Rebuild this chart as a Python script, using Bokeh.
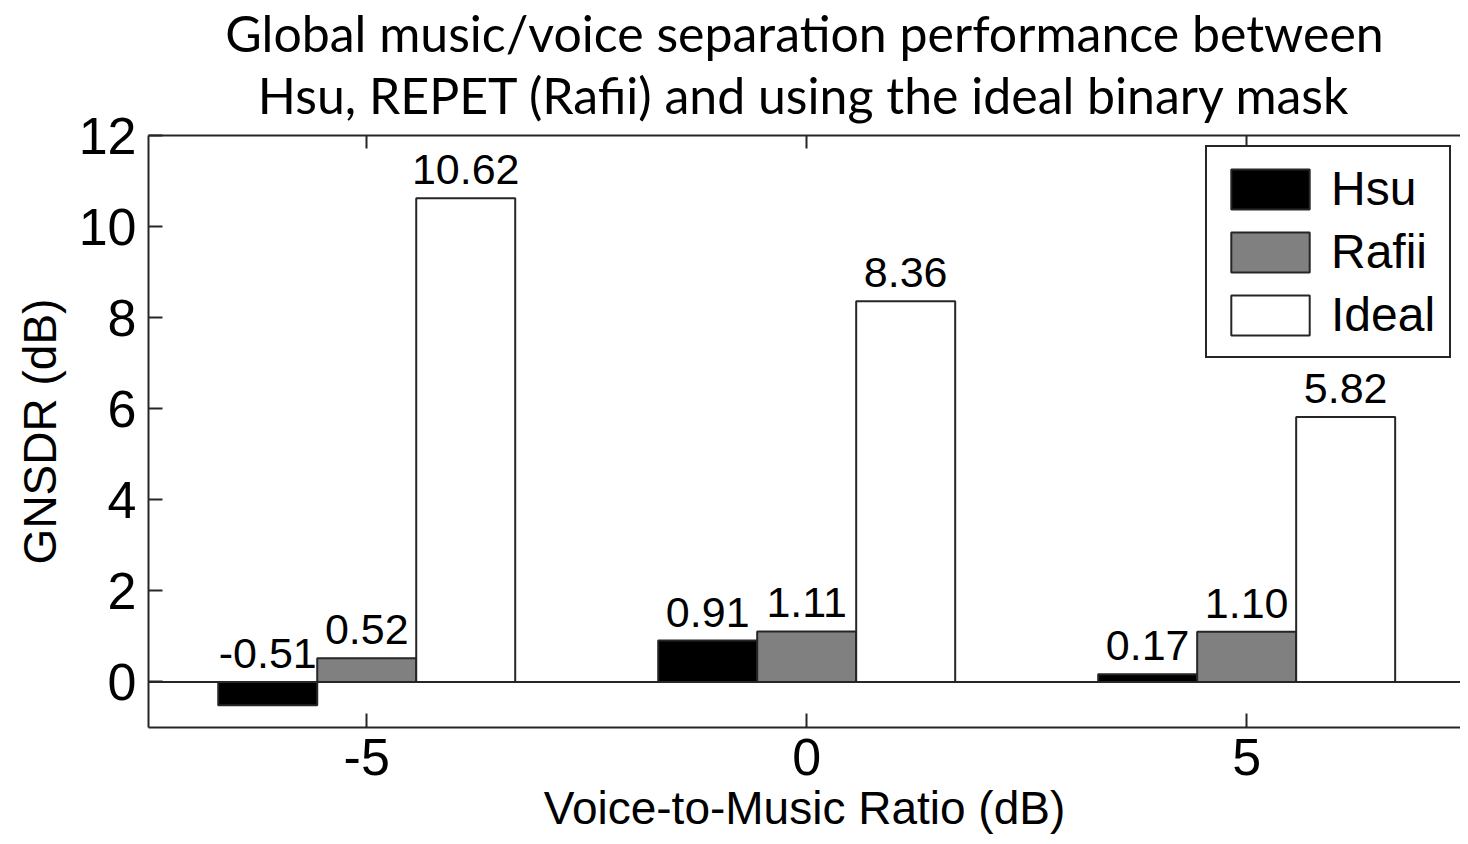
from bokeh.plotting import figure
from bokeh.models import (ColumnDataSource, Range1d, FixedTicker, LinearAxis, Title,
                          Span, Legend, LegendItem, CustomLabelingPolicy, LabelSet)
from bokeh.transform import dodge
from bokeh.core.properties import value
from bokeh.embed import file_html
from bokeh.resources import INLINE

# ---- data ----
vmr = [-5, 0, 5]
vmr_labels = ["-5", "0", "5"]
hsu = [-0.51, 0.91, 0.17]
rafii = [0.52, 1.11, 1.10]
ideal = [10.62, 8.36, 5.82]
series_names = ["Hsu", "Rafii", "Ideal"]
series_values = [hsu, rafii, ideal]
series_colors = ["#000000", "#808080", "#ffffff"]
y_ticks = [0, 2, 4, 6, 8, 10, 12]
title_lines = ["Global music/voice separation performance between",
               "Hsu, REPET (Rafii) and using the ideal binary mask"]

AX_FONT = "Liberation Sans"
TITLE_FONT = "Lato"
EDGE = "#262626"

p = figure(width=1460, height=836, x_range=Range1d(-7.48, 7.43), y_range=Range1d(-1, 12),
           output_backend="svg", toolbar_location=None,
           min_border_left=148, min_border_right=0, min_border_top=0, min_border_bottom=0)

p.xgrid.visible = False
p.ygrid.visible = False
p.outline_line_color = None
p.background_fill_color = "white"
p.title = None

xa = p.below[0]
ya = p.left[0]

# top axis with ticks only (nearest to the plot, so added first)
top_ax = LinearAxis(ticker=FixedTicker(ticks=vmr),
                    major_label_policy=CustomLabelingPolicy(code="return new Set()"),
                    major_tick_in=13, major_tick_out=0, major_tick_line_color=EDGE,
                    major_tick_line_width=2, axis_line_color=EDGE, axis_line_width=2,
                    minor_tick_line_color=None, major_label_standoff=0,
                    major_label_text_font_size="10px")
p.add_layout(top_ax, "above")

# titles (bottom line first so it sits nearest the plot)
for line in reversed(title_lines):
    p.add_layout(Title(text=line, align="center", text_font=TITLE_FONT,
                       text_font_size="50px", text_font_style="normal",
                       text_color="black", standoff=0, offset=0), "above")

# bottom axis
xa.ticker = FixedTicker(ticks=vmr)
xa.major_label_overrides = {v: s for v, s in zip(vmr, vmr_labels)}
xa.axis_label = "Voice-to-Music Ratio (dB)"

ya.ticker = FixedTicker(ticks=y_ticks)
ya.axis_label = "GNSDR (dB)"

for ax in (xa, ya):
    ax.axis_label_text_font = AX_FONT
    ax.axis_label_text_font_style = "normal"
    ax.axis_label_text_font_size = "46px"
    ax.axis_label_text_color = "black"
    ax.major_label_text_font = AX_FONT
    ax.major_label_text_font_size = "52px"
    ax.major_label_text_color = "black"
    ax.axis_line_color = EDGE
    ax.axis_line_width = 2
    ax.major_tick_line_color = EDGE
    ax.major_tick_line_width = 2
    ax.major_tick_in = 14
    ax.major_tick_out = 0
    ax.minor_tick_line_color = None
xa.major_label_standoff = 11
xa.axis_label_standoff = 4
ya.major_label_standoff = 12
ya.axis_label_standoff = 10

# zero baseline
p.add_layout(Span(location=0, dimension="width", line_color=EDGE, line_width=2))

offsets = [-1.125, 0.0, 1.125]
items = []
for name, vals, color, off in zip(series_names, series_values, series_colors, offsets):
    src = ColumnDataSource(dict(x=vmr, top=vals,
                                label=["%.2f" % v for v in vals],
                                ly=[max(v, 0) for v in vals]))
    r = p.vbar(x=dodge("x", off, range=p.x_range), top="top", bottom=0, width=1.125,
               source=src, fill_color=color, line_color=EDGE, line_width=2)
    p.add_layout(LabelSet(x=dodge("x", off, range=p.x_range), y="ly", text="label",
                          source=src, text_align="center", text_baseline="alphabetic",
                          y_offset=14, text_font=value(AX_FONT), text_font_size="43px",
                          text_color="black"))
    items.append(LegendItem(label=name, renderers=[r]))

legend = Legend(items=items, location=(1057, 369), margin=0,
                glyph_width=98, glyph_height=50, label_text_font=AX_FONT,
                label_text_font_size="48px", label_text_color="black",
                spacing=8, padding=14, label_standoff=12,
                border_line_color=EDGE, border_line_width=2, border_line_alpha=1.0,
                background_fill_color="white", background_fill_alpha=1.0)
p.add_layout(legend)

open("out.html", "w").write(file_html(p, INLINE))
